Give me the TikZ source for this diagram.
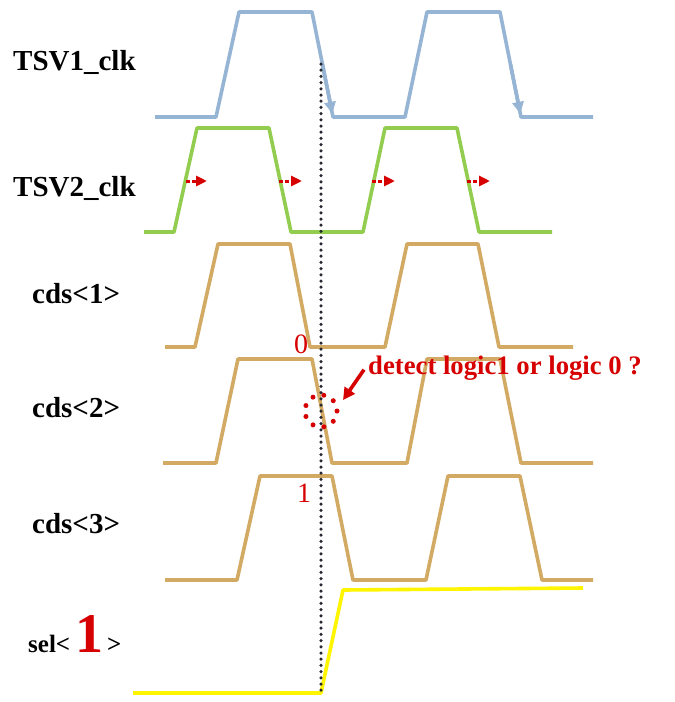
\documentclass[tikz,border=0pt]{standalone}
\usepackage{fontspec}
\setmainfont{Liberation Serif}
\usetikzlibrary{arrows.meta,calc}
\definecolor{wblue}{RGB}{150,180,212}
\definecolor{wgreen}{RGB}{146,205,80}
\definecolor{wtan}{RGB}{210,170,100}
\definecolor{wyellow}{RGB}{255,245,0}
\definecolor{dred}{RGB}{215,0,0}
\definecolor{dotgray}{RGB}{40,40,50}
\begin{document}
\begin{tikzpicture}[x=1pt,y=-1pt,
  wave/.style={line width=3.6pt, line join=round},
  siglabel/.style={anchor=base west, inner sep=0pt, font=\fontsize{29}{32}\selectfont\bfseries},
  numlabel/.style={anchor=base west, inner sep=0pt, text=dred, font=\fontsize{28}{30}\selectfont},
  shiftarrow/.style={dred, line width=3pt, dash pattern=on 3.5pt off 2.5pt, -{Triangle[length=11pt,width=10pt]}},
  edgetip/.style={wblue, line width=3.6pt, -{Triangle[length=12pt,width=11pt]}}
]
\useasboundingbox (0,0) rectangle (675,702);
\fill[white] (0,0) rectangle (675,702);

% labels
\node[siglabel] (l1) at (13,70) {TSV1\_clk};
\node[siglabel] (l2) at (13,196) {TSV2\_clk};
\node[siglabel] (l3) at (32,303) {cds<1>};
\node[siglabel] (l4) at (32,417) {cds<2>};
\node[siglabel] (l5) at (32,533) {cds<3>};
\node[siglabel, font=\fontsize{25}{30}\selectfont\bfseries] (l6) at (28,652) {sel<\hspace{5pt}{\color{dred}\fontsize{56}{56}\selectfont 1}\hspace{4pt}>};

% TSV1_clk
\coordinate (b1) at (312,12); \coordinate (b2) at (333,117);
\coordinate (b3) at (500,12); \coordinate (b4) at (521,117);
\draw[wave, wblue] (155,117) -- (216,117) -- (239,12) -- (b1) -- (b2) -- (405,117) -- (427,12) -- (b3) -- (b4) -- (593,117);
\draw[edgetip] ($(b1)!0.5!(b2)$) -- ($(b1)!0.97!(b2)$);
\draw[edgetip] ($(b3)!0.5!(b4)$) -- ($(b3)!0.97!(b4)$);

% TSV2_clk
\draw[wave, wgreen] (144,232) -- (174,232) -- (197,128) -- (269,128) -- (291,232) -- (363,232) -- (385,128) -- (457,128) -- (479,232) -- (552,232);
\draw[shiftarrow] (186,181) -- (207,181);
\draw[shiftarrow] (279,181) -- (302,181);
\draw[shiftarrow] (372,181) -- (395,181);
\draw[shiftarrow] (467,181) -- (490,181);

% cds<1>
\draw[wave, wtan] (165,347) -- (195,347) -- (218,244) -- (290,244) -- (310,347) -- (385,347) -- (407,244) -- (478,244) -- (499,347) -- (573,347);
% cds<2>
\draw[wave, wtan] (163,463) -- (216,463) -- (238,359) -- (312,359) -- (332,463) -- (407,463) -- (427,359) -- (500,359) -- (521,463) -- (593,463);
% cds<3>
\draw[wave, wtan] (165,580) -- (237,580) -- (260,476) -- (332,476) -- (353,580) -- (426,580) -- (448,476) -- (520,476) -- (542,580) -- (593,580);
% sel<1>
\draw[wave, wyellow] (133,693) -- (321,693) -- (343,590) -- (583,588);

% dotted vertical marker
\foreach \k in {0,...,101} {
  \fill[dotgray] (321,{64+6.2*\k}) circle (1.75pt);
}

% logic values
\node[numlabel] (zero) at (294,353) {0};
\node[numlabel] (one) at (297,502) {1};

% detection circle and text
\node[circle, minimum size=32pt, inner sep=0pt] (det) at (321,411) {};
\foreach \a in {0,40,...,320} {
  \fill[dred] (det.center) ++(\a:16pt) circle (2.5pt);
}
\node[anchor=base west, inner sep=0pt, text=dred, font=\fontsize{26.7}{30}\selectfont\bfseries] (txt) at (368,374) {detect logic1 or logic 0 ?};
\draw[dred, line width=3.6pt, -{Triangle[length=12pt,width=12pt]}] ([xshift=-4pt,yshift=-2pt]txt.west) -- (343,400);
\end{tikzpicture}
\end{document}
